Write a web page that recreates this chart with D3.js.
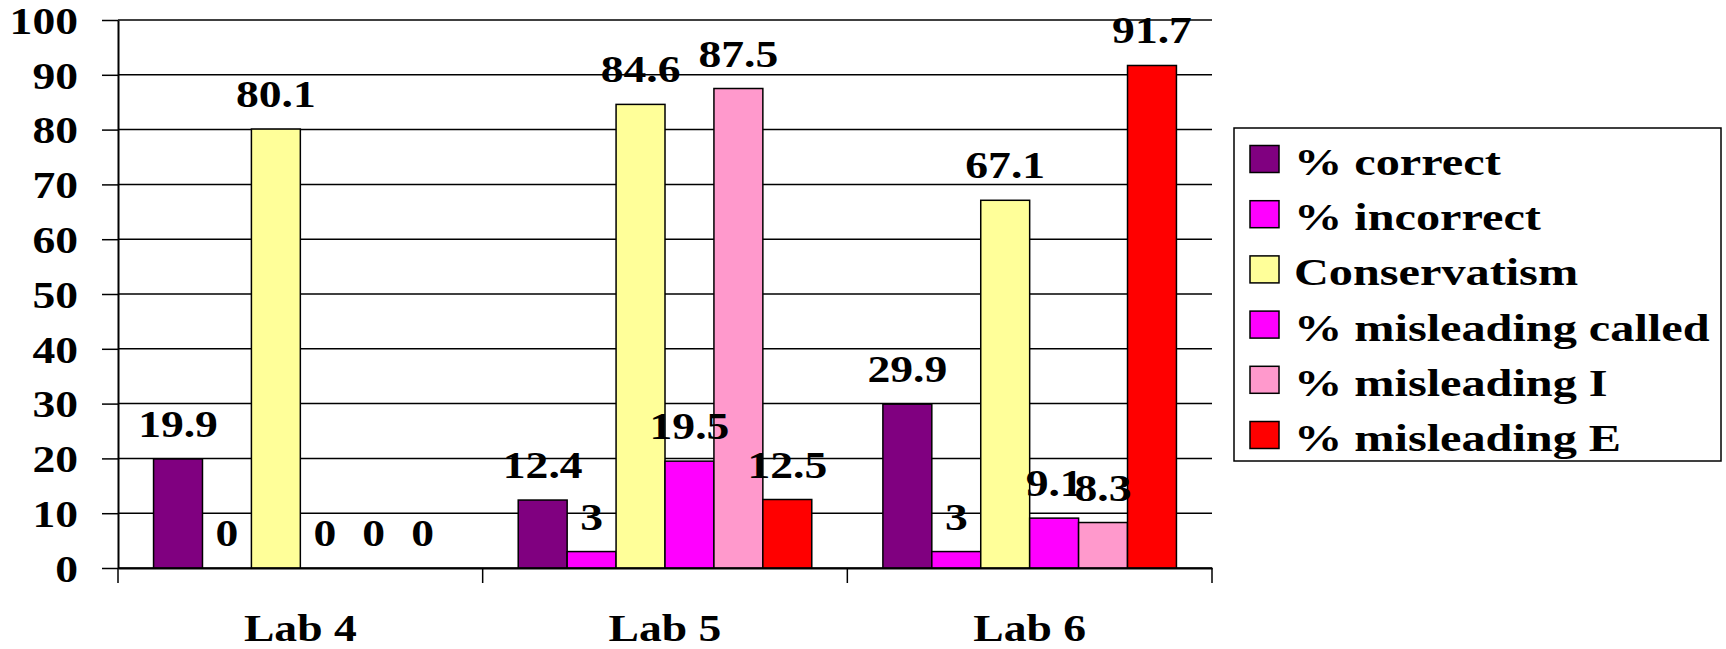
<!DOCTYPE html>
<html>
<head>
<meta charset="utf-8">
<script src="https://cdn.jsdelivr.net/npm/d3@7"></script>
<style>
  body { margin: 0; background: #fff; }
  text { font-family: "Liberation Serif", "Times New Roman", serif; font-weight: bold; fill: #000; }
</style>
</head>
<body>
<div id="chart"></div>
<script>
// data
let labs = ["Lab 4", "Lab 5", "Lab 6"];
let series = ["% correct", "% incorrect", "Conservatism", "% misleading called", "% misleading I", "% misleading E"];
let pct_correct = [19.9, 12.4, 29.9];
let pct_incorrect = [0, 3, 3];
let conservatism = [80.1, 84.6, 67.1];
let misleading_called = [0, 19.5, 9.1];
let misleading_I = [0, 87.5, 8.3];
let misleading_E = [0, 12.5, 91.7];
let y_ticks = [0, 10, 20, 30, 40, 50, 60, 70, 80, 90, 100];
let colours = ["#800080", "#FF00FF", "#FFFF99", "#FF00FF", "#FF99CC", "#FF0000"];

let values = [pct_correct, pct_incorrect, conservatism, misleading_called, misleading_I, misleading_E];

let width = 1726, height = 649;
let plot_left = 118, plot_right = 1212, plot_top = 20, plot_bottom = 568;
let font_size = 38, stretch = 1.2, legend_stretch = 1.27;

let svg = d3.select("#chart")
    .append("svg")
    .attr("width", width)
    .attr("height", height);

svg.append("rect").attr("width", width).attr("height", height).attr("fill", "#fff");

let x0 = d3.scaleBand()
    .domain(labs)
    .range([plot_left, plot_right]);

let pad = x0.bandwidth() * 0.0975;
let x1 = d3.scaleBand()
    .domain(series)
    .range([pad, x0.bandwidth() - pad]);

let y = d3.scaleLinear()
    .domain([0, 100])
    .range([plot_bottom, plot_top]);

let color = d3.scaleOrdinal().domain(series).range(colours);

// gridlines
svg.append("g")
    .selectAll("line")
    .data(y_ticks)
    .enter().append("line")
    .attr("x1", plot_left)
    .attr("x2", plot_right)
    .attr("y1", function(d) { return y(d); })
    .attr("y2", function(d) { return y(d); })
    .attr("stroke", "#000")
    .attr("stroke-width", 1.5);

// bars
let rows = [];
labs.forEach(function(lab, i) {
    series.forEach(function(s, j) {
        rows.push({ lab: lab, series: s, value: values[j][i] });
    });
});

svg.append("g")
    .selectAll("rect")
    .data(rows)
    .enter().append("rect")
    .attr("x", function(d) { return x0(d.lab) + x1(d.series); })
    .attr("y", function(d) { return y(d.value); })
    .attr("width", x1.bandwidth())
    .attr("height", function(d) { return y(0) - y(d.value); })
    .attr("fill", function(d) { return color(d.series); })
    .attr("stroke", "#000")
    .attr("stroke-width", 1.5);

// y axis
let y_axis = svg.append("g")
    .attr("transform", "translate(" + plot_left + ",0)")
    .call(d3.axisLeft(y).tickValues(y_ticks).tickSize(16).tickSizeOuter(0));

y_axis.select(".domain").attr("stroke-width", 2);
y_axis.selectAll(".tick line").attr("stroke-width", 1.5);
y_axis.selectAll(".tick text")
    .attr("x", -40 / stretch)
    .attr("dy", "0.35em")
    .attr("transform", "scale(" + stretch + ",1)")
    .style("font-size", font_size + "px")
    .attr("fill", "#000");

// x axis, labels at band centres
let x_axis = svg.append("g")
    .attr("transform", "translate(0," + plot_bottom + ")")
    .call(d3.axisBottom(x0).tickSize(0).tickSizeOuter(0));

x_axis.select(".domain").attr("stroke-width", 2);
x_axis.selectAll(".tick text")
    .attr("y", 73)
    .attr("dy", 0)
    .attr("transform", "scale(" + stretch + ",1)")
    .style("font-size", font_size + "px")
    .attr("fill", "#000");

// ticks on band edges
let edges = labs.map(function(d) { return x0(d); }).concat([x0(labs[labs.length - 1]) + x0.bandwidth()]);
svg.append("g")
    .selectAll("line")
    .data(edges)
    .enter().append("line")
    .attr("x1", function(d) { return d; })
    .attr("x2", function(d) { return d; })
    .attr("y1", plot_bottom)
    .attr("y2", plot_bottom + 15)
    .attr("stroke", "#000")
    .attr("stroke-width", 1.5);

// value labels
svg.append("g")
    .selectAll("text")
    .data(rows)
    .enter().append("text")
    .attr("transform", function(d) {
        let cx = x0(d.lab) + x1(d.series) + x1.bandwidth() / 2;
        return "translate(" + cx + "," + (y(d.value) - 22) + ") scale(" + stretch + ",1)";
    })
    .attr("text-anchor", "middle")
    .style("font-size", font_size + "px")
    .text(function(d) { return d.value; });

// legend
let legend_x = 1234, legend_y = 128, legend_w = 487, legend_h = 333;
let row_start = 159, row_step = 55.2;

svg.append("rect")
    .attr("x", legend_x)
    .attr("y", legend_y)
    .attr("width", legend_w)
    .attr("height", legend_h)
    .attr("fill", "#fff")
    .attr("stroke", "#000")
    .attr("stroke-width", 1.5);

let legend = svg.selectAll(".legend")
    .data(series)
    .enter().append("g")
    .attr("class", "legend")
    .attr("transform", function(d, i) { return "translate(0," + (row_start + i * row_step) + ")"; });

legend.append("rect")
    .attr("x", 1250)
    .attr("y", -13.5)
    .attr("width", 29)
    .attr("height", 27)
    .attr("fill", function(d) { return color(d); })
    .attr("stroke", "#000")
    .attr("stroke-width", 1.5);

legend.append("text")
    .attr("transform", "translate(1294,16) scale(" + legend_stretch + ",1)")
    .style("font-size", font_size + "px")
    .text(function(d) { return d; });
</script>
</body>
</html>
